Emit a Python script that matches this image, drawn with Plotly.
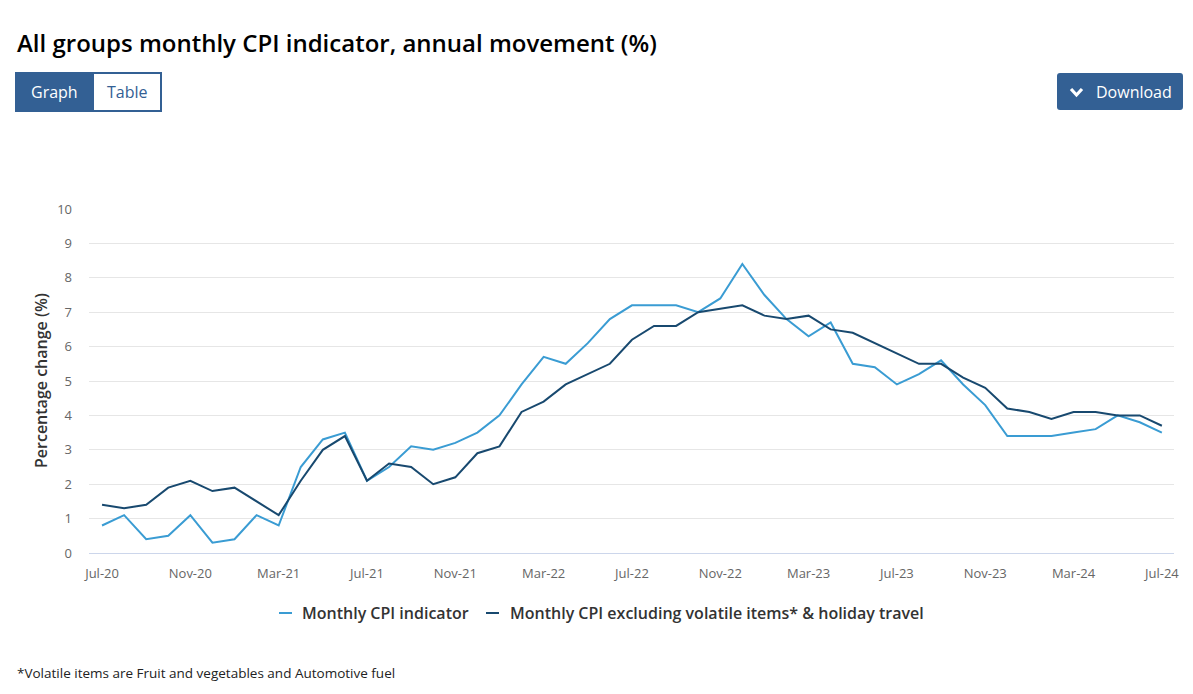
import plotly.graph_objects as go

months = ["Jul-20","Aug-20","Sep-20","Oct-20","Nov-20","Dec-20","Jan-21","Feb-21","Mar-21","Apr-21","May-21","Jun-21",
          "Jul-21","Aug-21","Sep-21","Oct-21","Nov-21","Dec-21","Jan-22","Feb-22","Mar-22","Apr-22","May-22","Jun-22",
          "Jul-22","Aug-22","Sep-22","Oct-22","Nov-22","Dec-22","Jan-23","Feb-23","Mar-23","Apr-23","May-23","Jun-23",
          "Jul-23","Aug-23","Sep-23","Oct-23","Nov-23","Dec-23","Jan-24","Feb-24","Mar-24","Apr-24","May-24","Jun-24",
          "Jul-24"]

cpi_indicator = [0.8,1.1,0.4,0.5,1.1,0.3,0.4,1.1,0.8,2.5,3.3,3.5,
                 2.1,2.5,3.1,3.0,3.2,3.5,4.0,4.9,5.7,5.5,6.1,6.8,
                 7.2,7.2,7.2,7.0,7.4,8.4,7.5,6.8,6.3,6.7,5.5,5.4,
                 4.9,5.2,5.6,4.9,4.3,3.4,3.4,3.4,3.5,3.6,4.0,3.8,
                 3.5]

cpi_excl_volatile = [1.4,1.3,1.4,1.9,2.1,1.8,1.9,1.5,1.1,2.1,3.0,3.4,
                     2.1,2.6,2.5,2.0,2.2,2.9,3.1,4.1,4.4,4.9,5.2,5.5,
                     6.2,6.6,6.6,7.0,7.1,7.2,6.9,6.8,6.9,6.5,6.4,6.1,
                     5.8,5.5,5.5,5.1,4.8,4.2,4.1,3.9,4.1,4.1,4.0,4.0,
                     3.7]

series_names = ["Monthly CPI indicator", "Monthly CPI excluding volatile items* & holiday travel"]
series_colors = ["#3a9cd3", "#18496f"]
y_ticks = list(range(0, 11))
x_tick_labels = months[::4]

W, H = 1193, 694
ML, MR, MT, MB = 89, 19, 209, 141
PW = W - ML - MR
PH = H - MT - MB
FONT = "Open Sans"


def px(x):
    return (x - ML) / PW


def py(y):
    return (H - MB - y) / PH


def conv_path(p):
    res = []
    for t in p.split():
        if "," in t:
            a, b = t.split(",")
            res.append(f"{px(float(a)):.5f},{py(float(b)):.5f}")
        else:
            res.append(t)
    return " ".join(res)


fig = go.Figure()
for name, vals, col in zip(series_names, [cpi_indicator, cpi_excl_volatile], series_colors):
    fig.add_trace(go.Scatter(x=months, y=vals, mode="lines", name=name,
                             line=dict(color=col, width=2), showlegend=False))

shapes = []
annotations = []

# Title
annotations.append(dict(text="All groups monthly CPI indicator, annual movement (%)", x=px(15), y=py(42),
                        xref="paper", yref="paper", xanchor="left", yanchor="middle", showarrow=False,
                        font=dict(family=FONT, size=24, color="#000000", weight=600)))

# Graph / Table buttons
shapes.append(dict(type="rect", xref="paper", yref="paper", x0=px(16), x1=px(93), y0=py(111), y1=py(73),
                   fillcolor="#336094", line=dict(color="#336094", width=2), layer="above"))
shapes.append(dict(type="rect", xref="paper", yref="paper", x0=px(93), x1=px(161), y0=py(111), y1=py(73),
                   fillcolor="#ffffff", line=dict(color="#336094", width=2), layer="above"))
annotations.append(dict(text="Graph", x=px(54.5), y=py(92), xref="paper", yref="paper", showarrow=False,
                        xanchor="center", yanchor="middle", font=dict(family=FONT, size=16, color="#ffffff")))
annotations.append(dict(text="Table", x=px(127), y=py(92), xref="paper", yref="paper", showarrow=False,
                        xanchor="center", yanchor="middle", font=dict(family=FONT, size=16, color="#336094")))

# Download button (rounded)
x0, x1, y0, y1, r = 1057, 1183, 73, 110, 3
path = (f"M {x0+r},{y0} L {x1-r},{y0} Q {x1},{y0} {x1},{y0+r} L {x1},{y1-r} Q {x1},{y1} {x1-r},{y1} "
        f"L {x0+r},{y1} Q {x0},{y1} {x0},{y1-r} L {x0},{y0+r} Q {x0},{y0} {x0+r},{y0} Z")
shapes.append(dict(type="path", xref="paper", yref="paper", path=conv_path(path),
                   fillcolor="#336094", line=dict(color="#336094", width=0), layer="above"))
chev = f"M {px(1071):.5f},{py(89):.5f} L {px(1076.5):.5f},{py(95):.5f} L {px(1082):.5f},{py(89):.5f}"
shapes.append(dict(type="path", xref="paper", yref="paper", path=chev,
                   line=dict(color="#ffffff", width=3.2), layer="above"))
annotations.append(dict(text="Download", x=px(1094), y=py(92), xref="paper", yref="paper", showarrow=False,
                        xanchor="left", yanchor="middle", font=dict(family=FONT, size=16, color="#ffffff")))

# Y axis title
annotations.append(dict(text="Percentage change (%)", x=px(41), y=py(381), xref="paper", yref="paper",
                        showarrow=False, textangle=-90, xanchor="center", yanchor="middle",
                        font=dict(family=FONT, size=16, color="#333333", weight=600)))

# Custom legend
leg = [(279, 300, series_names[0], series_colors[0]), (486, 508, series_names[1], series_colors[1])]
for lx, tx, name, col in leg:
    shapes.append(dict(type="line", xref="paper", yref="paper", x0=px(lx), x1=px(lx + 13),
                       y0=py(613), y1=py(613), line=dict(color=col, width=2)))
    annotations.append(dict(text=name, x=px(tx), y=py(613), xref="paper", yref="paper", showarrow=False,
                            xanchor="left", yanchor="middle",
                            font=dict(family=FONT, size=16, color="#333333", weight=600)))

# Footnote
annotations.append(dict(text="*Volatile items are Fruit and vegetables and Automotive fuel", x=px(15), y=py(673),
                        xref="paper", yref="paper", showarrow=False, xanchor="left", yanchor="middle",
                        font=dict(family=FONT, size=13.5, color="#222222")))

fig.update_layout(
    width=W, height=H,
    margin=dict(l=ML, r=MR, t=MT, b=MB, pad=0),
    paper_bgcolor="#ffffff", plot_bgcolor="#ffffff",
    font=dict(family=FONT, size=13, color="#666666"),
    shapes=shapes, annotations=annotations,
    showlegend=False,
    xaxis=dict(type="category", categoryorder="array", categoryarray=months,
               range=[-0.59, len(months) - 1 + 0.55],
               tickvals=x_tick_labels, ticktext=x_tick_labels,
               showgrid=False, showline=True, linecolor="#ccd6eb", linewidth=1,
               ticks="", tickfont=dict(family=FONT, size=13, color="#666666"),
               ticklabelstandoff=8, zeroline=False, fixedrange=True),
    yaxis=dict(range=[0, 10], tickvals=y_ticks, showgrid=True, gridcolor="#e6e6e6", gridwidth=1,
               zeroline=False, showline=False, ticks="",
               tickfont=dict(family=FONT, size=13, color="#666666"),
               ticklabelstandoff=16, fixedrange=True),
)

fig.write_html("out.html")
